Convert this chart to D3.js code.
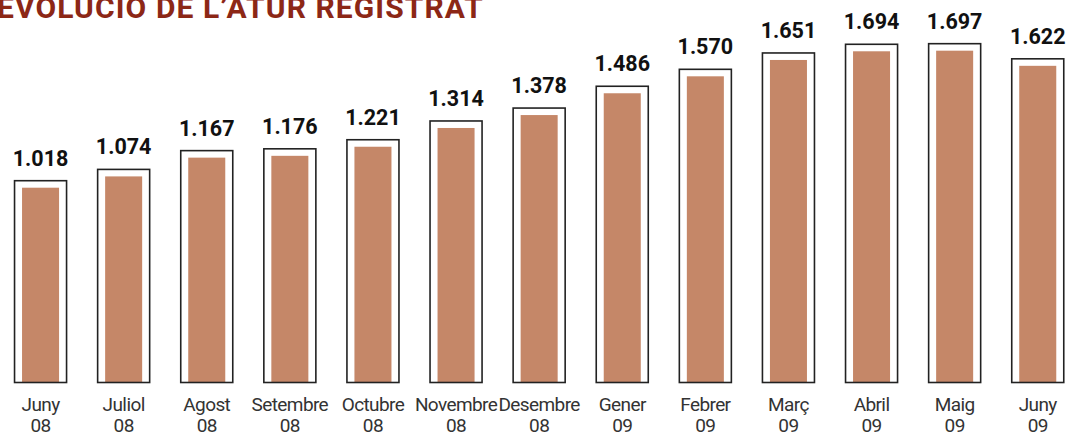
<!DOCTYPE html>
<html>
<head>
<meta charset="utf-8">
<script src="https://cdn.jsdelivr.net/npm/d3@7"></script>
<style>
  body { margin: 0; background: #fff; }
  svg { display: block; }
</style>
</head>
<body>
<script>
var W = 1067
var H = 434

// data
var months = ['Juny', 'Juliol', 'Agost', 'Setembre', 'Octubre', 'Novembre', 'Desembre', 'Gener', 'Febrer', 'Març', 'Abril', 'Maig', 'Juny']
var years = ['08', '08', '08', '08', '08', '08', '08', '09', '09', '09', '09', '09', '09']
var values = [1018, 1074, 1167, 1176, 1221, 1314, 1378, 1486, 1570, 1651, 1694, 1697, 1622]
var title = 'EVOLUCIÓ DE L\u2019ATUR REGISTRAT'

var svg = d3.select('body').append('svg').attr('width', W).attr('height', H)

var x = d3.scaleBand()
  .domain(d3.range(values.length))
  .range([-1, 1079.3])
  .paddingInner(0.374)
  .paddingOuter(0.187)

var bottom = 382.5
var y = d3.scaleLinear().domain([18, 1800]).range([bottom, 22.9])

var inset = 7.5

// title, clipped at the top of the picture
svg.append('text')
  .attr('x', -3)
  .attr('y', 18)
  .attr('fill', '#8c2716')
  .style('font-family', 'Roboto')
  .style('font-weight', 700)
  .style('font-size', '30px')
  .style('letter-spacing', '1.1px')
  .text(title)

var g = svg.selectAll('g.bar').data(values).enter().append('g').attr('class', 'bar')

// inner bar
g.append('rect')
  .attr('x', function (d, i) { return x(i) + inset })
  .attr('y', function (d) { return y(d) + 7 })
  .attr('width', x.bandwidth() - 2 * inset)
  .attr('height', function (d) { return bottom - y(d) - 7 })
  .attr('fill', '#c58768')

// outline box
g.append('rect')
  .attr('x', function (d, i) { return x(i) })
  .attr('y', function (d) { return y(d) })
  .attr('width', x.bandwidth())
  .attr('height', function (d) { return bottom - y(d) })
  .attr('fill', 'none')
  .attr('stroke', '#222')
  .attr('stroke-width', 1.6)

// value labels
g.append('text')
  .attr('x', function (d, i) { return x(i) + x.bandwidth() / 2 })
  .attr('y', function (d) { return y(d) - 15 })
  .attr('text-anchor', 'middle')
  .attr('fill', '#111')
  .style('font-family', 'Roboto')
  .style('font-weight', 700)
  .style('font-size', '21.5px')
  .text(function (d) { return d3.format(',')(d).replace(',', '.') })

// month / year labels
var lab = svg.selectAll('text.month').data(months).enter().append('text')
  .attr('class', 'month')
  .attr('text-anchor', 'middle')
  .attr('fill', '#333')
  .style('font-family', 'Roboto')
  .style('font-size', '19px')
  .style('letter-spacing', '-0.6px')

lab.append('tspan')
  .attr('x', function (d, i) { return x(i) + x.bandwidth() / 2 })
  .attr('y', 410.5)
  .text(function (d) { return d })

lab.append('tspan')
  .attr('x', function (d, i) { return x(i) + x.bandwidth() / 2 })
  .attr('y', 432)
  .text(function (d, i) { return years[i] })
</script>
</body>
</html>
